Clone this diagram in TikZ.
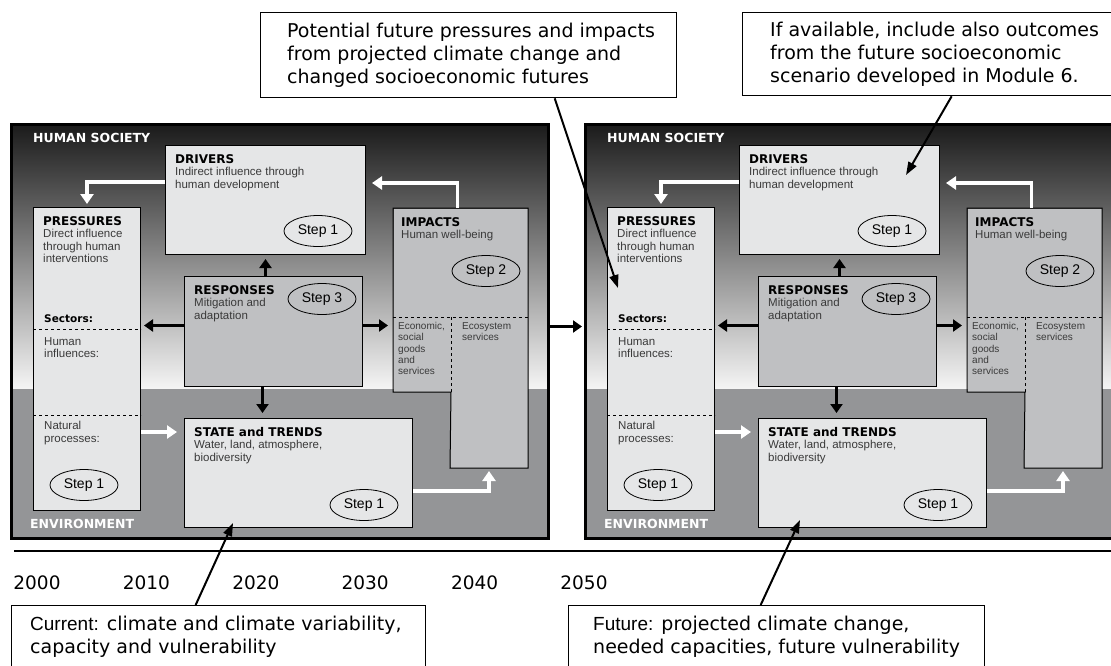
\documentclass[tikz,border=0pt]{standalone}
\usepackage{fontspec}
\setmainfont{Liberation Sans}
\newfontfamily\djv{DejaVu Sans}
\usetikzlibrary{arrows.meta,shapes.geometric}
\definecolor{boxlight}{HTML}{E5E6E7}
\definecolor{boxmid}{HTML}{BFC0C2}
\definecolor{envgrey}{HTML}{949597}
\definecolor{bodygrey}{HTML}{3A3A3A}
\newcommand{\hdf}{\djv\bfseries\fontsize{12}{13}\selectfont\color{black}}

\begin{document}
\begin{tikzpicture}[x=1pt,y=-1pt]
\tikzset{box/.style={draw=black, line width=1pt, anchor=north west, inner sep=0pt},
  hdl/.style={anchor=north west, align=left, inner sep=0pt, xshift=10pt, yshift=-9pt, text=bodygrey, font=\fontsize{11.5}{12.5}\selectfont},
  sml/.style={anchor=north west, align=left, inner sep=0pt, text=bodygrey, font=\fontsize{10}{11.3}\selectfont},
  stepnode/.style={draw, ellipse, line width=0.8pt, minimum width=68pt, minimum height=31pt, inner sep=0pt, font=\fontsize{14}{14}\selectfont},
  warrow/.style={draw=white, line width=3.5pt, -{Triangle[width=13pt,length=10pt]}},
  barrow/.style={draw=black, line width=3pt, -{Triangle[width=12pt,length=9pt]}},
  callout/.style={draw, line width=1.3pt, fill=white, anchor=north west, inner sep=0pt},
  ctext/.style={align=left, inner sep=0pt, font=\djv\fontsize{19}{23}\selectfont},
  pointer/.style={line width=2pt, -{Triangle[width=9pt,length=13pt]}}}
\useasboundingbox (0,0) rectangle (1111,665);
\clip (0,0) rectangle (1111,665);
% the two DPSIR panels, today and future
\foreach \p/\dx in {L/0,R/574}{
\begin{scope}[xshift=\dx pt]
\shade[top color=black!90, bottom color=black!4] (10,123) rectangle (547,389);
\fill[envgrey] (10,389) rectangle (547,537);
\node[draw, line width=3pt, anchor=north west, minimum width=537pt, minimum height=414pt, inner sep=0pt] (\p pan) at (10,123) {};
\node[white, font=\djv\bfseries\fontsize{12.5}{13}\selectfont, anchor=west, inner sep=0pt] (\p hum) at (33,138) {HUMAN SOCIETY};
\node[white, font=\djv\bfseries\fontsize{12.5}{13}\selectfont, anchor=west, inner sep=0pt] (\p env) at (30,524) {ENVIRONMENT};
% boxes
\node[box, fill=boxlight, minimum width=200pt, minimum height=109pt,
  label={[hdl]north west:{\hdf DRIVERS\\Indirect influence through\\human development}}] (\p drv) at (165,145) {};
\node[box, fill=boxlight, minimum width=107pt, minimum height=303pt,
  label={[hdl]north west:{\hdf PRESSURES\\Direct influence\\through human\\interventions}}] (\p pre) at (33,207) {};
\node[box, fill=boxmid, minimum width=178pt, minimum height=110pt,
  label={[hdl]north west:{\hdf RESPONSES\\Mitigation and\\adaptation}}] (\p res) at (184,276) {};
\node[box, fill=boxlight, minimum width=228pt, minimum height=109pt,
  label={[hdl]north west:{\hdf STATE and TRENDS\\Water, land, atmosphere,\\biodiversity}}] (\p sta) at (184,418) {};
\node[box, draw=none, fill=boxmid, minimum width=134pt, minimum height=109pt,
  label={[hdl, xshift=-2pt]north west:{\hdf IMPACTS\\Human well-being}}] (\p imp) at (393,208) {};
\node[box, draw=none, fill=boxmid, minimum width=57pt, minimum height=74pt,
  label={[sml, xshift=5pt, yshift=-5pt]north west:{Economic,\\social\\goods\\and\\services}}] (\p econ) at (393,317) {};
\node[box, draw=none, fill=boxmid, minimum width=77pt, minimum height=150pt,
  label={[sml, xshift=12pt, yshift=-5pt]north west:{Ecosystem\\services}}] (\p eco) at (450,317) {};
\draw[line width=1pt] (\p imp.north west) -- (\p imp.north east) -- (\p eco.south east) -- (\p eco.south west)
  -- (\p econ.south east) -- (\p econ.south west) -- cycle;
\draw[line width=0.8pt, dashed] (\p econ.north west) -- (\p eco.north east);
\draw[line width=0.8pt, dashed] (\p econ.north east) -- (\p econ.south east);
% sectors in pressures
\draw[line width=0.8pt, dashed] ([yshift=-122pt]\p pre.north west) -- ([yshift=-122pt]\p pre.north east);
\draw[line width=0.8pt, dashed] ([yshift=-208pt]\p pre.north west) -- ([yshift=-208pt]\p pre.north east);
\node[anchor=west, inner sep=0pt, font=\djv\bfseries\fontsize{10.5}{12}\selectfont] (\p sec) at (44,319) {Sectors:};
\node[anchor=north west, align=left, inner sep=0pt, text=bodygrey, font=\fontsize{11.5}{12.5}\selectfont] (\p hinf) at (44,337) {Human\\influences:};
\node[anchor=north west, align=left, inner sep=0pt, text=bodygrey, font=\fontsize{11.5}{12.5}\selectfont] (\p nat) at (44,421) {Natural\\processes:};
% steps
\node[stepnode] (\p sdrv) at (318,231) {Step 1};
\node[stepnode] (\p simp) at (486,271) {Step 2};
\node[stepnode] (\p sres) at (322,299) {Step 3};
\node[stepnode] (\p spre) at (84,485) {Step 1};
\node[stepnode] (\p ssta) at (364,505) {Step 1};
% flows
\draw[warrow, shorten >=3pt] ([yshift=18pt]\p drv.west) -| (\p pre.north);
\draw[warrow, shorten >=6pt] ([xshift=-3pt]\p imp.north) |- ([yshift=17pt]\p drv.east);
\draw[warrow, shorten >=7pt] ([yshift=41pt]\p sta.west -| \p pre.east) -- ([yshift=41pt]\p sta.west);
\draw[warrow, shorten >=3pt] ([yshift=-18pt]\p sta.east) -| (\p eco.south);
\draw[barrow, shorten >=4pt] (\p drv.south |- \p res.north) -- (\p drv.south);
\draw[barrow, shorten >=3pt] ([yshift=6pt]\p res.west) -- ([yshift=6pt]\p res.west -| \p pre.east);
\draw[barrow, shorten >=5pt] ([yshift=6pt]\p res.east) -- ([yshift=6pt]\p res.east -| \p econ.west);
\draw[barrow, shorten >=5pt] ([xshift=-11pt]\p res.south) -- ([xshift=-11pt]\p res.south |- \p sta.north);
\end{scope}
}
\draw[barrow, shorten >=2pt] ([yshift=5pt]Lpan.east) -- ([yshift=5pt]Rpan.west);
% time line
\draw[line width=2.5pt] (14,551) -- (1115,551);
\foreach \yr [count=\i from 0] in {2000,2010,2020,2030,2040,2050}
  \node[font=\djv\fontsize{18.5}{20}\selectfont] (y\yr) at ({37+109.4*\i},583) {\yr};
% callouts
\node[callout, minimum width=416pt, minimum height=85pt,
  label={[ctext, anchor=west, xshift=27pt]west:{Potential future pressures and impacts\\from projected climate change and\\changed socioeconomic futures}}] (pot) at (260,12) {};
\node[callout, minimum width=418pt, minimum height=83pt,
  label={[ctext, anchor=west, xshift=28pt]west:{If available, include also outcomes\\from the future socioeconomic\\scenario developed in Module 6.}}] (avl) at (742,12) {};
\node[callout, minimum width=414pt, minimum height=80pt,
  label={[ctext, anchor=north west, xshift=19pt, yshift=-11pt]north west:{{\rmfamily Current:} climate and climate variability,\\capacity and vulnerability}}] (cur) at (11,605) {};
\node[callout, minimum width=416pt, minimum height=80pt,
  label={[ctext, anchor=north west, xshift=25pt, yshift=-11pt]north west:{{\rmfamily Future:} projected climate change,\\needed capacities, future vulnerability}}] (fut) at (568,605) {};
\coordinate (ptpre) at (618,288);
\coordinate (ptdrv) at (906,175);
\coordinate (ptsta) at (233,523);
\coordinate (ptfsta) at (800,520);
\draw[pointer] ([xshift=86pt]pot.south) -- (ptpre);
\draw[pointer] (avl.south) -- (ptdrv);
\draw[pointer] ([xshift=-23pt]cur.north) -- (ptsta);
\draw[pointer] ([xshift=-16pt]fut.north) -- (ptfsta);
\end{tikzpicture}
\end{document}
